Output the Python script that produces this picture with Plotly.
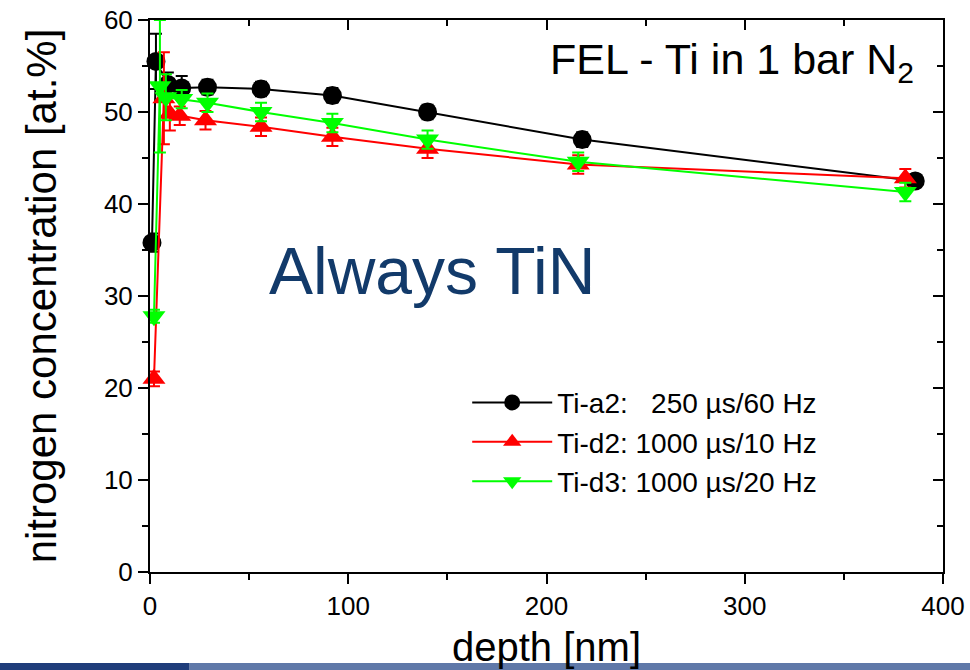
import plotly.graph_objects as go

# ---- data ----
a2_depth = [1, 3, 9, 16, 29, 56, 92, 140, 218, 386]
a2_conc = [35.8, 55.5, 53.0, 52.6, 52.7, 52.5, 51.8, 50.0, 47.0, 42.5]
a2_err = [1.0, 3.0, 1.3, 1.3, 0.8, 0.8, 0.8, 0.8, 0.8, 0.7]

d2_depth = [2, 7, 10, 15, 28, 56, 92, 140, 216, 381]
d2_conc = [21.0, 51.5, 49.8, 49.6, 49.1, 48.4, 47.3, 46.0, 44.3, 42.8]
d2_err = [0.8, 5.0, 1.8, 1.0, 1.0, 1.0, 1.0, 1.0, 1.0, 1.0]

d3_depth = [2, 5, 8, 16, 29, 56, 92, 140, 216, 381]
d3_conc = [27.8, 52.8, 51.6, 51.4, 51.0, 50.0, 48.8, 47.0, 44.6, 41.3]
d3_err = [0.7, 7.2, 2.5, 1.0, 1.0, 1.0, 1.0, 1.0, 1.0, 1.0]

series_names = ["Ti-a2:\u00a0\u00a0 250 µs/60 Hz",
                "Ti-d2: 1000 µs/10 Hz",
                "Ti-d3: 1000 µs/20 Hz"]
x_ticks = [0, 100, 200, 300, 400]
y_ticks = [0, 10, 20, 30, 40, 50, 60]

FONT = "Liberation Sans, Arial, sans-serif"

fig = go.Figure()

specs = [
    (a2_depth, a2_conc, a2_err, series_names[0], "#000000", "circle", 19),
    (d2_depth, d2_conc, d2_err, series_names[1], "#ff0000", "triangle-up", 20),
    (d3_depth, d3_conc, d3_err, series_names[2], "#00ff00", "triangle-down", 20),
]
for xs, ys, es, name, col, sym, sz in specs:
    fig.add_trace(go.Scatter(
        x=xs, y=ys, name=name, mode="lines+markers",
        line=dict(color=col, width=2),
        marker=dict(color=col, symbol=sym, size=sz, line=dict(width=0)),
        error_y=dict(type="data", array=es, visible=True, color=col,
                     thickness=2, width=6),
        cliponaxis=False,
    ))

# invisible trace to carry mirrored axes (top/right with inward ticks)
fig.add_trace(go.Scatter(x=a2_depth, y=a2_conc, xaxis="x2", yaxis="y2",
                         mode="markers", marker=dict(opacity=0),
                         showlegend=False, hoverinfo="skip"))

axis_common = dict(showgrid=False, zeroline=False, showline=True,
                   linecolor="black", linewidth=2, tickcolor="black",
                   tickwidth=2, ticklen=10, automargin=False)

fig.update_layout(
    width=970, height=670,
    margin=dict(l=150, r=27, t=20, b=98, autoexpand=False),
    paper_bgcolor="white", plot_bgcolor="rgba(0,0,0,0)",
    font=dict(family=FONT, color="black"),
    xaxis=dict(range=[0, 400], tickvals=x_ticks, ticks="outside",
               minor=dict(dtick=50, ticklen=6, tickwidth=2, ticks="outside",
                          tickcolor="black"),
               tickfont=dict(size=26),
               title=dict(text="depth [nm]", font=dict(size=40), standoff=13),
               **axis_common),
    yaxis=dict(range=[0, 60], tickvals=y_ticks, ticks="outside",
               minor=dict(dtick=5, ticklen=6, tickwidth=2, ticks="outside",
                          tickcolor="black"),
               tickfont=dict(size=26),
               title=dict(text="nitrogen concentration [at.%]",
                          font=dict(size=42), standoff=34),
               **axis_common),
    xaxis2=dict(range=[0, 400], overlaying="x", side="top", tickvals=x_ticks,
                ticks="inside", showticklabels=False,
                minor=dict(dtick=50, ticklen=6, tickwidth=2, ticks="inside",
                           tickcolor="black"),
                **axis_common),
    yaxis2=dict(range=[0, 60], overlaying="y", side="right", tickvals=y_ticks,
                ticks="inside", showticklabels=False,
                minor=dict(dtick=5, ticklen=6, tickwidth=2, ticks="inside",
                           tickcolor="black"),
                **axis_common),
    legend=dict(x=0.40, y=0.352, xanchor="left", yanchor="top",
                bgcolor="rgba(0,0,0,0)", font=dict(size=28),
                itemwidth=80, tracegroupgap=0),
    showlegend=True,
)

fig.add_annotation(text="FEL - Ti in 1 bar N<sub>2</sub>", xref="paper",
                   yref="paper", x=0.966, y=0.976, xanchor="right",
                   yanchor="top", showarrow=False,
                   font=dict(size=43, family=FONT, color="black"))
fig.add_annotation(text="Always TiN", xref="paper", yref="paper",
                   x=0.148, y=0.545, xanchor="left", yanchor="middle",
                   showarrow=False,
                   font=dict(size=66, family=FONT, color="#123a6a"))

# bottom slide strip
fig.add_shape(type="rect", xref="paper", yref="paper", x0=-0.19, x1=0.05,
              y0=-0.178, y1=-0.165, fillcolor="#1f3d7a", line_width=0,
              layer="below")
fig.add_shape(type="rect", xref="paper", yref="paper", x0=0.05, x1=1.04,
              y0=-0.178, y1=-0.165, fillcolor="#5f78a8", line_width=0,
              layer="below")

fig.write_html("out.html")
